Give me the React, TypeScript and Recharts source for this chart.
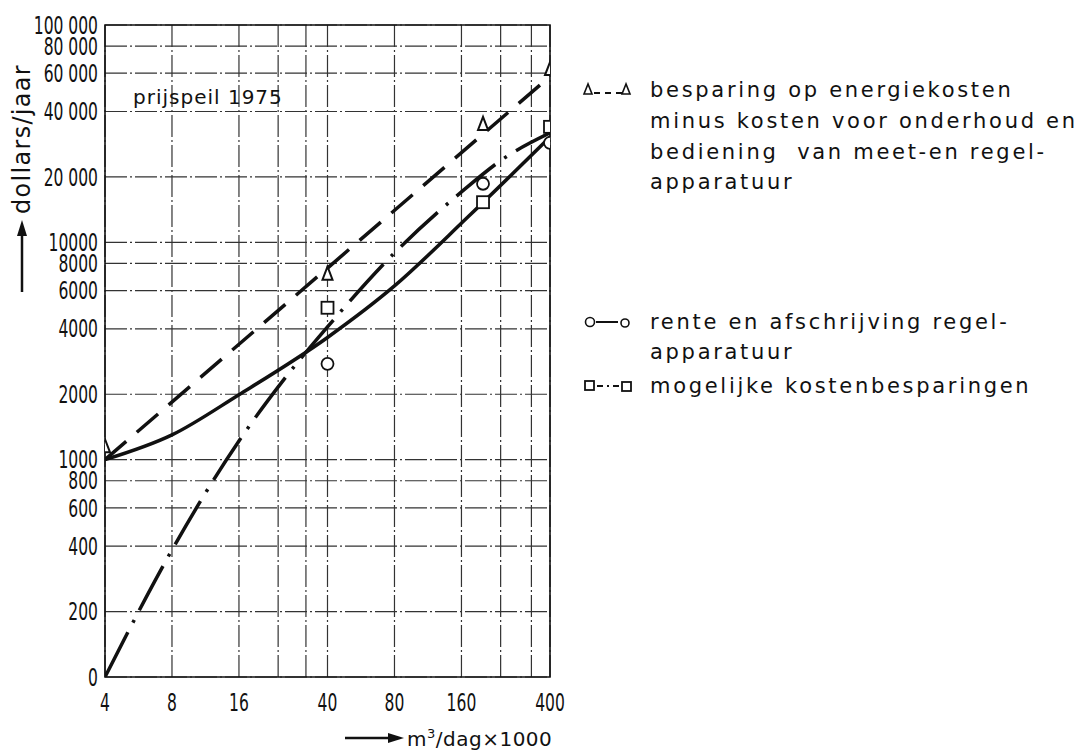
import {
  ComposedChart,
  Line,
  Scatter,
  XAxis,
  YAxis,
  CartesianGrid,
  ReferenceArea
} from "recharts";

// axis ticks (log - log paper)
const xTicks = [4, 8, 16, 24, 32, 40, 80, 160, 240, 330, 400];
const xLabels: Record<number, string> = { 4: "4", 8: "8", 16: "16", 40: "40", 80: "80", 160: "160", 400: "400" };
const yTicks = [100, 200, 400, 600, 800, 1000, 2000, 4000, 6000, 8000, 10000, 20000, 40000, 60000, 80000, 100000];
const yLabels: Record<number, string> = {
  100: "0", 200: "200", 400: "400", 600: "600", 800: "800",
  1000: "1000", 2000: "2000", 4000: "4000", 6000: "6000", 8000: "8000",
  10000: "10000", 20000: "20 000", 40000: "40 000", 60000: "60 000", 80000: "80 000", 100000: "100 000"
};

// besparing op energiekosten (triangles + dashed line)
const energyX = [4, 40, 200, 400];
const energyY = [1140, 7100, 34700, 62000];
const energyLineX = [4, 400];
const energyLineY = [1000, 58000];

// rente en afschrijving (circles + solid curve)
const renteX = [40, 200, 400];
const renteY = [2760, 18600, 28700];
const renteLineX = [4, 8, 16, 40, 80, 170, 400];
const renteLineY = [1000, 1300, 1990, 3650, 6300, 13000, 30500];

// mogelijke kostenbesparingen (squares + dash-dot curve)
const savingX = [40, 200, 400];
const savingY = [5000, 15300, 34000];
const savingLineX = [4, 8, 16, 25, 40, 80, 160, 250, 400];
const savingLineY = [100, 384, 1220, 2280, 4080, 8940, 17060, 24460, 31900];

const pts = (xs: number[], ys: number[]) => xs.map((x, i) => ({ x, y: ys[i] }));

const INK = "#111";
const tickFont = "'DejaVu Sans Condensed', 'DejaVu Sans', sans-serif";
const textFont = "'DejaVu Sans', sans-serif";

// narrow, tall digits like the drawn lettering
const YTick = ({ x, y, payload }: any) => (
  <text transform={`translate(${x},${y}) scale(0.72,1)`} dy="0.36em" textAnchor="end"
    fontFamily={tickFont} fontSize={24} fill={INK}>
    {yLabels[payload.value] ?? ""}
  </text>
);

const XTick = ({ x, y, payload }: any) => (
  <text transform={`translate(${x},${y}) scale(0.72,1)`} dy={34} textAnchor="middle"
    fontFamily={tickFont} fontSize={24} fill={INK}>
    {xLabels[payload.value] ?? ""}
  </text>
);

const Triangle = ({ cx, cy }: any) => (
  <polygon points={`${cx},${cy - 8} ${cx - 5},${cy + 5} ${cx + 5},${cy + 5}`} fill="#fff" stroke={INK} strokeWidth={2} />
);
const Circle = ({ cx, cy }: any) => <circle cx={cx} cy={cy} r={6} fill="#fff" stroke={INK} strokeWidth={1.8} />;
const Square = ({ cx, cy }: any) => (
  <rect x={cx - 6} y={cy - 6} width={12} height={12} fill="#fff" stroke={INK} strokeWidth={1.8} />
);

const legendLine = (text: string, top: number, left = 650) => (
  <div
    key={text + top}
    style={{
      position: "absolute", left, top: top - 15, lineHeight: "30px", whiteSpace: "pre",
      fontFamily: textFont, fontSize: 21, letterSpacing: 2.7, color: INK
    }}
  >
    {text}
  </div>
);

export default function App() {
  return (
    <div style={{ position: "absolute", left: 0, top: 0, width: 1081, height: 752, background: "#fff" }}>
      <ComposedChart width={1081} height={752} margin={{ top: 25, right: 531, bottom: 35, left: 5 }}>
        <CartesianGrid stroke="#333" strokeWidth={1.2} strokeDasharray="22 3 2 3" />
        <XAxis
          dataKey="x"
          type="number"
          scale="log"
          domain={[4, 400]}
          ticks={xTicks}
          interval={0}
          allowDataOverflow
          height={40}
          axisLine={false}
          tickLine={false}
          tickSize={0}
          tickMargin={0}
          tick={<XTick />}
        />
        <YAxis
          dataKey="y"
          type="number"
          scale="log"
          domain={[100, 100000]}
          ticks={yTicks}
          interval={0}
          allowDataOverflow
          width={100}
          axisLine={false}
          tickLine={false}
          tickSize={0}
          tickMargin={7}
          tick={<YTick />}
        />
        <ReferenceArea x1={4} x2={400} y1={100} y2={100000} fill="none" stroke={INK} strokeWidth={1.6} />
        <Line data={pts(energyLineX, energyLineY)} dataKey="y" type="linear" stroke={INK} strokeWidth={3.5}
          strokeDasharray="28 14" dot={false} isAnimationActive={false} />
        <Line data={pts(renteLineX, renteLineY)} dataKey="y" type="monotone" stroke={INK} strokeWidth={3.5}
          dot={false} isAnimationActive={false} />
        <Line data={pts(savingLineX, savingLineY)} dataKey="y" type="monotone" stroke={INK} strokeWidth={3.5}
          strokeDasharray="50 11 3 11" dot={false} isAnimationActive={false} />
        <Scatter data={pts(energyX, energyY)} shape={<Triangle />} isAnimationActive={false} />
        <Scatter data={pts(renteX, renteY)} shape={<Circle />} isAnimationActive={false} />
        <Scatter data={pts(savingX, savingY)} shape={<Square />} isAnimationActive={false} />
      </ComposedChart>

      {/* note inside plot */}
      <div style={{ position: "absolute", left: 133, top: 83, fontFamily: textFont, fontSize: 20, letterSpacing: 1, color: INK, lineHeight: "28px" }}>
        prijspeil 1975
      </div>

      <svg style={{ position: "absolute", left: 0, top: 0 }} width={1081} height={752}>
        {/* y axis title */}
        <line x1={22} y1={292} x2={22} y2={232} stroke={INK} strokeWidth={2.5} />
        <polygon points="22,220 17,236 27,236" fill={INK} />
        <text x={30} y={214} transform="rotate(-90 30 214)" fontFamily={textFont} fontSize={24} letterSpacing={1.3} fill={INK}>
          dollars/jaar
        </text>
        {/* x axis title */}
        <line x1={345} y1={738} x2={392} y2={738} stroke={INK} strokeWidth={2.5} />
        <polygon points="404,738 388,733 388,743" fill={INK} />
        <text x={407} y={746} fontFamily={textFont} fontSize={20} letterSpacing={0.5} fill={INK}>
          m<tspan dy={-8} fontSize={13}>3</tspan><tspan dy={8}>/dag×1000</tspan>
        </text>

        {/* legend symbols */}
        <polygon points="588,84 584,94 592,94" fill="none" stroke={INK} strokeWidth={1.6} />
        <line x1={594} y1={93} x2={624} y2={93} stroke={INK} strokeWidth={2} strokeDasharray="6 5" />
        <polygon points="626,84 622,94 630,94" fill="none" stroke={INK} strokeWidth={1.6} />

        <circle cx={590} cy={322} r={4.5} fill="none" stroke={INK} strokeWidth={1.6} />
        <line x1={596} y1={322} x2={618} y2={322} stroke={INK} strokeWidth={2} />
        <circle cx={625} cy={323} r={4} fill="none" stroke={INK} strokeWidth={1.6} />

        <rect x={585} y={381} width={9} height={9} fill="none" stroke={INK} strokeWidth={1.8} />
        <line x1={597} y1={386} x2={620} y2={386} stroke={INK} strokeWidth={2} strokeDasharray="6 4 2 4" />
        <rect x={622} y={382} width={9} height={9} fill="none" stroke={INK} strokeWidth={1.8} />
      </svg>

      {legendLine("besparing op energiekosten", 90)}
      {legendLine("minus kosten voor onderhoud en", 121)}
      {legendLine("bediening  van meet-en regel-", 152)}
      {legendLine("apparatuur", 182)}
      {legendLine("rente en afschrijving regel-", 322)}
      {legendLine("apparatuur", 352)}
      {legendLine("mogelijke kostenbesparingen", 386)}
    </div>
  );
}
